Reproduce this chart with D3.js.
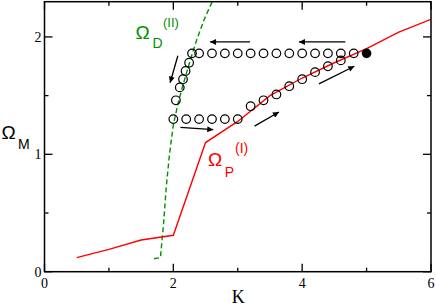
<!DOCTYPE html>
<html><head><meta charset="utf-8">
<script src="https://cdn.jsdelivr.net/npm/d3@7"></script>
<style>body{margin:0;background:#fff}svg{display:block}</style>
</head><body>
<script>
// ---- data ----
const redK      = [0.5, 1.0, 1.5, 2.0, 2.5, 3.0, 3.5, 4.0, 4.5, 5.0, 5.5, 6.0];
const redOmega  = [0.12,0.19,0.27,0.31,1.10,1.28,1.50,1.65,1.78,1.90,2.04,2.15];
const greenK     = [1.70, 1.80, 1.85, 1.89, 1.94, 2.00, 2.08, 2.15, 2.25, 2.36, 2.48, 2.62];
const greenOmega = [0.11, 0.12, 0.42, 0.72, 1.00, 1.25, 1.45, 1.59, 1.78, 1.97, 2.15, 2.32];
const lowerRowK = [2.0, 2.2, 2.4, 2.6, 2.8, 3.0];
const lowerRowOmega = [1.30, 1.30, 1.30, 1.30, 1.30, 1.30];
const risingK = [3.2, 3.4, 3.6, 3.8, 4.0, 4.2, 4.4, 4.6];
const risingOmega = [1.41, 1.46, 1.51, 1.58, 1.64, 1.70, 1.75, 1.80];
const upperRowK = [2.4, 2.6, 2.8, 3.0, 3.2, 3.4, 3.6, 3.8, 4.0, 4.2, 4.4, 4.6, 4.8];
const upperRowOmega = [1.86,1.86,1.86,1.86,1.86,1.86,1.86,1.86,1.86,1.86,1.86,1.86,1.86];
const descK = [2.29, 2.245, 2.19, 2.15, 2.10, 2.04];
const descOmega = [1.86, 1.78, 1.71, 1.64, 1.57, 1.46];
const filledK = [5.0];
const filledOmega = [1.86];
// arrows: [K1, Omega1, K2, Omega2]
const arrows = [
  [3.19, 1.957, 2.57, 1.957],
  [4.67, 1.957, 3.95, 1.957],
  [4.26, 1.60, 4.81, 1.75],
  [3.26, 1.24, 3.64, 1.36],
  [2.11, 1.23, 2.62, 1.21],
  [2.07, 1.84, 1.95, 1.61]
];
const xMajorTicks = [0, 2, 4, 6];
const xMinorTicks = [1, 3, 5];
const yMajorTicks = [0, 1, 2];
const yMinorTicks = [0.5, 1.5];

// ---- layout ----
const W = 436, H = 307;
const L = 44.5, R = 431, T = 1.7, B = 271.7;
const x = d3.scaleLinear().domain([0, 6]).range([L, R]);
const y = d3.scaleLinear().domain([0, 2.3]).range([B, T]);

const svg = d3.select("body").append("svg").attr("width", W).attr("height", H);
const defs = svg.append("defs");
defs.append("clipPath").attr("id", "clip").append("rect")
  .attr("x", L).attr("y", T).attr("width", R - L).attr("height", B - T);
defs.append("marker").attr("id", "ah").attr("viewBox", "0 0 10 10")
  .attr("refX", 10).attr("refY", 5).attr("markerWidth", 8).attr("markerHeight", 6)
  .attr("markerUnits", "userSpaceOnUse").attr("orient", "auto")
  .append("path").attr("d", "M0,0 L10,5 L0,10 Z").attr("fill", "#000");

const line = d3.line().x(d => x(d[0])).y(d => y(d[1]));
const plot = svg.append("g").attr("clip-path", "url(#clip)");

plot.append("path").datum(d3.zip(greenK, greenOmega)).attr("d", line)
  .attr("fill", "none").attr("stroke", "#009000").attr("stroke-width", 1.4)
  .attr("stroke-dasharray", "5,3");
plot.append("path").datum(d3.zip(redK, redOmega)).attr("d", line)
  .attr("fill", "none").attr("stroke", "#ff0000").attr("stroke-width", 1.4);

const openPts = [].concat(
  d3.zip(lowerRowK, lowerRowOmega), d3.zip(risingK, risingOmega),
  d3.zip(upperRowK, upperRowOmega), d3.zip(descK, descOmega));
plot.selectAll("circle.o").data(openPts).enter().append("circle")
  .attr("class", "o").attr("cx", d => x(d[0])).attr("cy", d => y(d[1])).attr("r", 4.3)
  .attr("fill", "none").attr("stroke", "#000").attr("stroke-width", 1.2);
plot.selectAll("circle.f").data(d3.zip(filledK, filledOmega)).enter().append("circle")
  .attr("class", "f").attr("cx", d => x(d[0])).attr("cy", d => y(d[1])).attr("r", 4.8)
  .attr("fill", "#000");

svg.selectAll("line.arr").data(arrows).enter().append("line").attr("class", "arr")
  .attr("x1", d => x(d[0])).attr("y1", d => y(d[1]))
  .attr("x2", d => x(d[2])).attr("y2", d => y(d[3]))
  .attr("stroke", "#000").attr("stroke-width", 1.3).attr("marker-end", "url(#ah)");

// frame + ticks
svg.append("rect").attr("x", L).attr("y", T).attr("width", R - L).attr("height", B - T)
  .attr("fill", "none").attr("stroke", "#000").attr("stroke-width", 1.5);
const tk = svg.append("g").attr("stroke", "#000").attr("stroke-width", 1.3);
function xt(v, len) {
  tk.append("line").attr("x1", x(v)).attr("x2", x(v)).attr("y1", B).attr("y2", B - len);
  tk.append("line").attr("x1", x(v)).attr("x2", x(v)).attr("y1", T).attr("y2", T + len);
}
function yt(v, len) {
  tk.append("line").attr("y1", y(v)).attr("y2", y(v)).attr("x1", L).attr("x2", L + len);
  tk.append("line").attr("y1", y(v)).attr("y2", y(v)).attr("x1", R).attr("x2", R - len);
}
xMajorTicks.forEach(v => xt(v, 8)); xMinorTicks.forEach(v => xt(v, 4));
yMajorTicks.forEach(v => yt(v, 8)); yMinorTicks.forEach(v => yt(v, 4));

const serif = "Liberation Serif, Times New Roman, serif";
const sans = "Liberation Sans, Arial, sans-serif";
svg.selectAll("text.xl").data(xMajorTicks).enter().append("text").attr("class", "xl")
  .attr("x", d => x(d)).attr("y", 288).attr("text-anchor", "middle")
  .attr("font-family", serif).attr("font-size", 14).text(d => d);
svg.selectAll("text.yl").data(yMajorTicks).enter().append("text").attr("class", "yl")
  .attr("x", 41.5).attr("y", d => y(d) + 5).attr("text-anchor", "end")
  .attr("font-family", serif).attr("font-size", 14).text(d => d);

svg.append("text").attr("x", 238.3).attr("y", 302.5).attr("text-anchor", "middle")
  .attr("font-family", serif).attr("font-size", 18).text("K");
// Omega_M
svg.append("text").attr("x", 1.5).attr("y", 139).attr("font-family", sans).attr("font-size", 19).text("Ω");
svg.append("text").attr("x", 18).attr("y", 149.3).attr("font-family", sans).attr("font-size", 14).text("M");
// Omega_D^(II)
const gc = "#009000";
svg.append("text").attr("x", 135.5).attr("y", 39.3).attr("fill", gc).attr("font-family", sans).attr("font-size", 19).text("Ω");
svg.append("text").attr("x", 152.5).attr("y", 47.7).attr("fill", gc).attr("font-family", sans).attr("font-size", 14).text("D");
svg.append("text").attr("x", 163).attr("y", 27).attr("fill", gc).attr("font-family", sans).attr("font-size", 13).text("(II)");
// Omega_P^(I)
svg.append("text").attr("x", 208).attr("y", 165.7).attr("fill", "#ff0000").attr("font-family", sans).attr("font-size", 19).text("Ω");
svg.append("text").attr("x", 224.7).attr("y", 176.7).attr("fill", "#ff0000").attr("font-family", sans).attr("font-size", 14).text("P");
svg.append("text").attr("x", 235).attr("y", 152.5).attr("fill", "#ff0000").attr("font-family", sans).attr("font-size", 14).text("(I)");
</script>
</body></html>
